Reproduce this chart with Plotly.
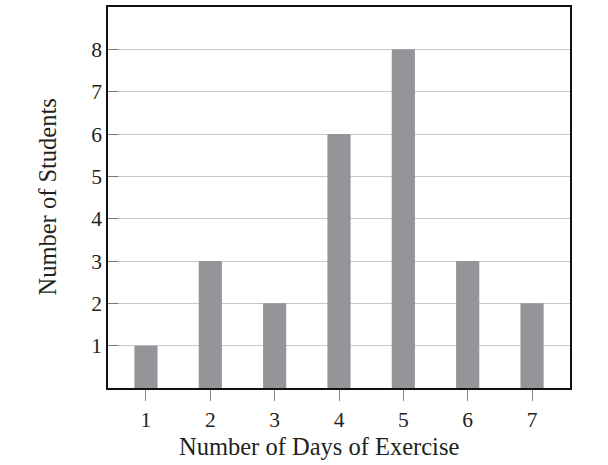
import plotly.graph_objects as go

days = [1, 2, 3, 4, 5, 6, 7]
students = [1, 3, 2, 6, 8, 3, 2]
y_ticks = [1, 2, 3, 4, 5, 6, 7, 8]

fig = go.Figure()
fig.add_trace(go.Bar(x=days, y=students, width=0.36,
                     marker=dict(color="#939598", line=dict(width=0))))

font = "Liberation Serif, Times New Roman, serif"
L, R, T, B = 108, 38, 5, 77
W, H = 608, 465
pw, ph = W - L - R, H - T - B
fig.update_layout(
    width=W, height=H,
    margin=dict(l=L, r=R, t=T, b=B),
    paper_bgcolor="white", plot_bgcolor="white",
    showlegend=False,
    font=dict(family=font, size=21.5, color="#231f20"),
    xaxis=dict(range=[0.41, 7.59], tickvals=days, ticks="outside", ticklen=11,
               tickcolor="#888", tickwidth=1.2, tickfont=dict(size=21.5),
               showline=True, linecolor="#111", linewidth=1.5, mirror=True,
               showgrid=False, zeroline=False),
    yaxis=dict(range=[0, 9], tickvals=y_ticks, ticks="inside", ticklen=10,
               tickcolor="#777", tickwidth=1.2, tickfont=dict(size=21.5),
               showline=True, linecolor="#111", linewidth=1.5, mirror=True,
               showgrid=True, gridcolor="#c8c8c8", gridwidth=1, zeroline=False),
    annotations=[
        dict(text="Number of Days of Exercise", xref="paper", yref="paper",
             x=(319 - L) / pw, y=-(447 - (T + ph)) / ph, xanchor="center", yanchor="middle",
             showarrow=False, font=dict(size=24.5)),
        dict(text="Number of Students", xref="paper", yref="paper",
             x=(47 - L) / pw, y=0.5, xanchor="center", yanchor="middle", textangle=-90,
             showarrow=False, font=dict(size=24.5)),
    ],
)
fig.write_html("out.html", config={"displayModeBar": False},
               post_script="document.body.style.margin='0';")
